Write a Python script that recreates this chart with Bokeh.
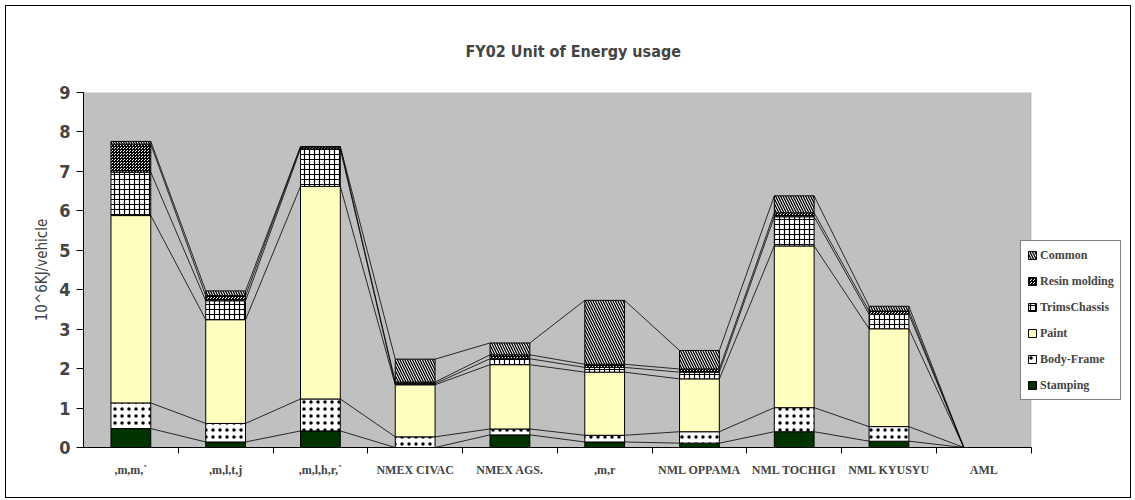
import numpy as np
from bokeh.plotting import figure
from bokeh.models import (ColumnDataSource, Range1d, LinearAxis, BoxAnnotation,
                          FixedTicker, Legend, LegendItem)
from bokeh.embed import file_html
from bokeh.resources import INLINE

# ---------------- data ----------------
categories = [",m,m,`", ",m,l,t,j", ",m,l,h,r,`", "NMEX CIVAC", "NMEX AGS.",
              ",m,r", "NML OPPAMA", "NML TOCHIGI", "NML KYUSYU", "AML"]
series_names = ["Stamping", "Body-Frame", "Paint", "TrimsChassis", "Resin molding", "Common"]
stamping     = [0.48, 0.14, 0.42, 0.00, 0.32, 0.14, 0.11, 0.40, 0.16, 0.0]
body_frame   = [0.65, 0.47, 0.81, 0.27, 0.15, 0.17, 0.29, 0.61, 0.37, 0.0]
paint        = [4.75, 2.63, 5.39, 1.32, 1.63, 1.60, 1.34, 4.10, 2.48, 0.0]
trims        = [1.10, 0.48, 0.95, 0.03, 0.15, 0.12, 0.17, 0.74, 0.37, 0.0]
resin        = [0.71, 0.13, 0.05, 0.04, 0.10, 0.08, 0.08, 0.10, 0.08, 0.0]
common       = [0.07, 0.12, 0.01, 0.58, 0.30, 1.62, 0.47, 0.43, 0.12, 0.0]
y_ticks = [0, 1, 2, 3, 4, 5, 6, 7, 8, 9]

values = [stamping, body_frame, paint, trims, resin, common]
styles = [
    dict(fill_color="#003300"),
    dict(fill_color="white", hatch_pattern="dot", hatch_color="black", hatch_scale=7, hatch_weight=0.3),
    dict(fill_color="#FFFFC0"),
    dict(fill_color="white", hatch_pattern="cross", hatch_color="black", hatch_scale=5, hatch_weight=1.2),
    dict(fill_color="white", hatch_pattern="criss_cross", hatch_color="black", hatch_scale=3, hatch_weight=1),
    dict(fill_color="white", hatch_pattern="left_diagonal_line", hatch_color="black", hatch_scale=5, hatch_weight=1.3),
]

SANS = "DejaVu Sans Condensed"
n = len(categories)
centers = np.arange(n) + 0.5          # category slots on the x scale
boundaries = np.arange(1, n + 1)
W, H = 1126, 493
# the frame runs to the right edge so that the legend may overlap the grey plot area
p = figure(width=W, height=H, x_range=Range1d(0, n * 1.107), y_range=Range1d(0, 9),
           output_backend="svg", toolbar_location=None,
           x_axis_location=None, y_axis_location="left",
           min_border_left=77, min_border_right=0, min_border_top=86, min_border_bottom=52)
p.background_fill_color = "white"
p.border_fill_color = "white"
p.outline_line_color = None
p.grid.visible = False
p.styles = {"border": "1px solid black", "box-sizing": "border-box",
            "margin-left": "5px", "margin-top": "5px"}

# grey plot area
p.add_layout(BoxAnnotation(left=0, right=n, bottom=0, top=9, fill_color="#C0C0C0", fill_alpha=1,
                           line_color="#808080", line_width=1, level="underlay"))

bar_w = 0.42
cum = np.cumsum(np.array(values), axis=0)
bottoms = np.vstack([np.zeros(n), cum[:-1]])

renderers = []
for k, name in enumerate(series_names):
    src = ColumnDataSource(dict(x=centers, bottom=bottoms[k], top=cum[k]))
    r = p.vbar(x="x", bottom="bottom", top="top", width=bar_w, source=src,
               line_color="black", line_width=1, **styles[k])
    renderers.append(r)
    seg = ColumnDataSource(dict(x0=centers[:-1] + bar_w / 2, x1=centers[1:] - bar_w / 2,
                                y0=cum[k][:-1], y1=cum[k][1:]))
    p.segment(x0="x0", y0="y0", x1="x1", y1="y1",
              source=seg, line_color="black", line_width=0.8)

# y axis
p.yaxis.ticker = FixedTicker(ticks=y_ticks)
p.yaxis.axis_label = "10^6KJ/vehicle"
p.yaxis.axis_label_text_font = SANS
p.yaxis.axis_label_text_font_style = "normal"
p.yaxis.axis_label_text_font_size = "15px"
p.yaxis.major_label_text_font = SANS
p.yaxis.major_label_text_font_style = "bold"
p.yaxis.major_label_text_font_size = "18px"
p.yaxis.major_tick_out = 7
p.yaxis.major_tick_in = 0
p.yaxis.minor_tick_line_color = None
p.yaxis.axis_line_color = "black"
p.yaxis.major_label_standoff = 6

# x axis: labels at category centres, small ticks at category boundaries
xaxis = LinearAxis(ticker=FixedTicker(ticks=list(centers), minor_ticks=list(boundaries)),
                   major_label_overrides={float(c): lab for c, lab in zip(centers, categories)},
                   bounds=(0, n),
                   axis_line_color="black", major_tick_out=0, major_tick_in=0,
                   minor_tick_out=6, minor_tick_in=0, minor_tick_line_color="black",
                   major_label_text_font="Liberation Serif",
                   major_label_text_font_style="bold",
                   major_label_text_font_size="12px", major_label_standoff=9)
p.add_layout(xaxis, "below")

# title
p.title.text = "FY02 Unit of Energy usage"
p.title.text_font = SANS
p.title.text_font_style = "bold"
p.title.text_font_size = "16px"
p.title.align = "left"
p.title.offset = 382
p.title.standoff = 64

# legend
items = [LegendItem(label=series_names[k], renderers=[renderers[k]]) for k in reversed(range(len(series_names)))]
legend = Legend(items=items, location=(937, 47), glyph_width=10, glyph_height=10,
                label_height=16, spacing=10, padding=6, margin=0,
                label_text_font="Liberation Serif", label_text_font_style="bold",
                label_text_font_size="12px", label_standoff=3,
                border_line_color="black", border_line_width=1,
                background_fill_color="white", background_fill_alpha=1)
p.add_layout(legend)

open("out.html", "w").write(file_html(p, INLINE))
